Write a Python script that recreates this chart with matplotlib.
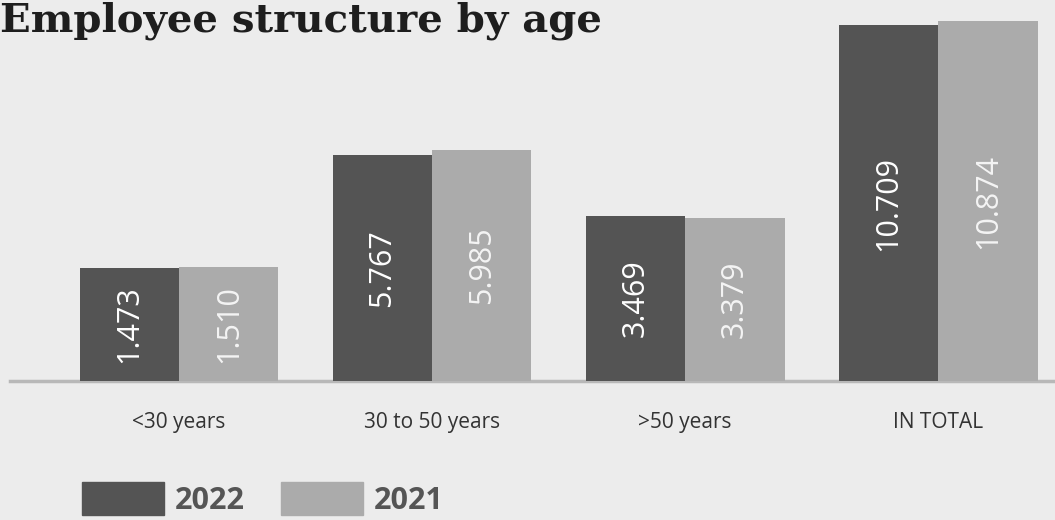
import numpy as np
import matplotlib.pyplot as plt
from matplotlib.patches import Patch

# datos
categorias = ['<30 years', '30 to 50 years', '>50 years', 'IN TOTAL']
v2022 = np.array([1.473, 5.767, 3.469, 10.709])
v2021 = np.array([1.510, 5.985, 3.379, 10.874])
series = ['2022', '2021']

c_oscuro = '#545454'
c_claro = '#ababab'
fondo = '#ececec'

# la escala del original no empieza en cero
base = -2.83
tope = 11.68

fig = plt.figure(figsize=(10.55, 5.2), dpi=100, facecolor=fondo)
ax = fig.add_axes([10 / 1055, 1 - 381 / 520, 1 - 10 / 1055, 381 / 520])
ax.set_facecolor(fondo)

x = np.arange(len(categorias))
w = 0.393
ax.bar(x - w / 2, v2022 - base, w, bottom=base, color=c_oscuro)
ax.bar(x + w / 2, v2021 - base, w, bottom=base, color=c_claro)

# etiquetas verticales dentro de las barras
for xs, vals, col in [(x - w / 2, v2022, 'white'), (x + w / 2, v2021, '#f4f4f4')]:
    for xi, v in zip(xs, vals):
        ax.text(xi, (base + v) / 2, f'{v:.3f}', rotation=90, ha='center', va='center',
                fontsize=22, color=col, family='Open Sans')

ax.set_xlim(-0.668, 3.462)
ax.set_ylim(base, tope)
ax.axhline(base, color='#b8b8b8', lw=2.5, zorder=0, clip_on=False)
for s in ax.spines.values():
    s.set_visible(False)
ax.set_yticks([])
ax.set_xticks(x)
ax.set_xticklabels(categorias, fontsize=15, color='#333333', family='Open Sans')
ax.tick_params(axis='x', length=0, pad=22)

fig.text(0.0, 0.997, 'Employee structure by age', fontsize=29, fontweight='heavy',
         family='DejaVu Serif', color='#1e1e1e', va='top', ha='left')

handles = [Patch(color=c_oscuro), Patch(color=c_claro)]
leg = fig.legend(handles, series, loc='lower left', bbox_to_anchor=(82 / 1055, 0.008),
                 ncol=2, frameon=False, borderpad=0, borderaxespad=0,
                 handlelength=2.68, handleheight=1.3, handletextpad=0.36,
                 columnspacing=1.18, prop={'family': 'Open Sans', 'weight': 'bold', 'size': 22})
for t in leg.get_texts():
    t.set_color('#555555')

fig.savefig('out.png', dpi=100, facecolor=fondo)
